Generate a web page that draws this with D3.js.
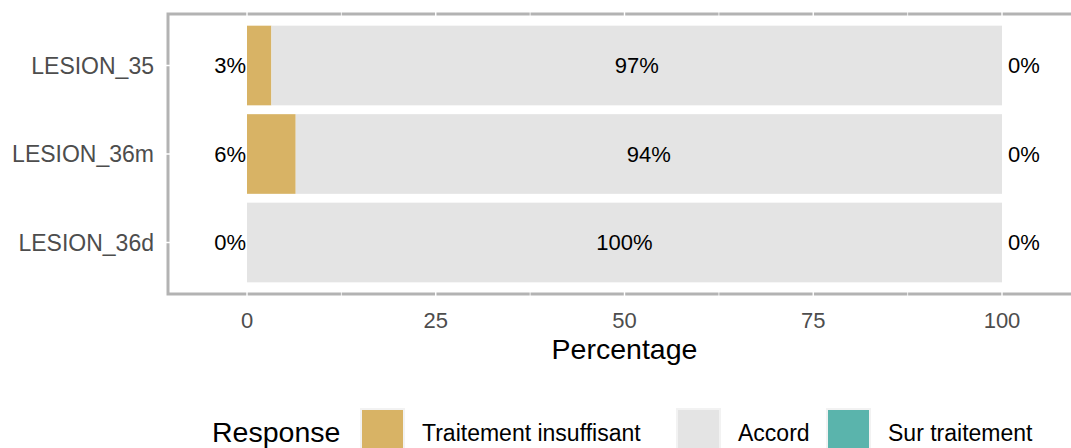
<!DOCTYPE html>
<html>
<head>
<meta charset="utf-8">
<script src="https://cdn.jsdelivr.net/npm/d3@7"></script>
<style>
  body { margin: 0; background: #fff; }
  text { font-family: "Liberation Sans", Arial, sans-serif; }
</style>
</head>
<body>
<svg id="chart" width="1071" height="448"></svg>
<script>
// data
const lesions = ['LESION_35', 'LESION_36m', 'LESION_36d'];
const responses = ['Traitement insuffisant', 'Accord', 'Sur traitement'];
const insuffisant = [3.23, 6.45, 0];
const accord = [96.77, 93.55, 100];
const surTraitement = [0, 0, 0];
const xTicks = [0, 25, 50, 75, 100];

const colors = ['#D8B365', '#E4E4E4', '#5AB4AC'];

const svg = d3.select('#chart');
const width = 1071;
const panel = { left: 168, top: 14, bottom: 294 };

const x = d3.scaleLinear().domain([0, 100]).range([247, 1002]);
const y = d3.scaleBand()
  .domain(lesions)
  .range([panel.top, panel.bottom])
  .paddingInner(0.1)
  .paddingOuter(0.132);

const color = d3.scaleOrdinal().domain(responses).range(colors);

// panel border (top, left, bottom)
const border = svg.append('g')
  .attr('stroke', '#b3b3b3')
  .attr('stroke-width', 3)
  .attr('fill', 'none');
border.append('path')
  .attr('d', `M${width},${panel.top}H${panel.left}V${panel.bottom}H${width}`);

// white grid lines that cut through the border
const grid = svg.append('g').attr('stroke', '#fff');
d3.range(-12.5, 125, 12.5).forEach(v => {
  grid.append('line')
    .attr('x1', x(v)).attr('x2', x(v))
    .attr('y1', panel.top - 2).attr('y2', panel.bottom + 2)
    .attr('stroke-width', v % 25 === 0 ? 1.4 : 0.8);
});
lesions.forEach(d => {
  grid.append('line')
    .attr('x1', panel.left - 2).attr('x2', width)
    .attr('y1', y(d) + y.bandwidth() / 2).attr('y2', y(d) + y.bandwidth() / 2)
    .attr('stroke-width', 1.4);
});

// stacked bars
const rows = lesions.map((name, i) => ({
  name,
  values: [insuffisant[i], accord[i], surTraitement[i]]
}));

rows.forEach(row => {
  let start = 0;
  row.values.forEach((v, j) => {
    svg.append('rect')
      .attr('x', x(start))
      .attr('y', y(row.name))
      .attr('width', x(start + v) - x(start))
      .attr('height', y.bandwidth())
      .attr('fill', colors[j]);
    start += v;
  });

  const cy = y(row.name) + y.bandwidth() / 2;
  // left label
  svg.append('text')
    .attr('x', x(0) - 1)
    .attr('y', cy)
    .attr('dy', '0.36em')
    .attr('text-anchor', 'end')
    .attr('font-size', 22)
    .text(`${Math.round(row.values[0])}%`);
  // centre label
  svg.append('text')
    .attr('x', x(row.values[0] + row.values[1] / 2))
    .attr('y', cy)
    .attr('dy', '0.36em')
    .attr('text-anchor', 'middle')
    .attr('font-size', 22)
    .text(`${Math.round(row.values[1])}%`);
  // right label
  svg.append('text')
    .attr('x', x(100) + 6)
    .attr('y', cy)
    .attr('dy', '0.36em')
    .attr('text-anchor', 'start')
    .attr('font-size', 22)
    .text(`${Math.round(row.values[2])}%`);
});

// y axis labels
svg.append('g')
  .selectAll('text')
  .data(lesions)
  .enter()
  .append('text')
  .attr('x', 154)
  .attr('y', d => y(d) + y.bandwidth() / 2)
  .attr('dy', '0.36em')
  .attr('text-anchor', 'end')
  .attr('font-size', 23)
  .attr('fill', '#4d4d4d')
  .text(d => d);

// x axis labels
svg.append('g')
  .selectAll('text')
  .data(xTicks)
  .enter()
  .append('text')
  .attr('x', d => x(d))
  .attr('y', 328)
  .attr('text-anchor', 'middle')
  .attr('font-size', 22)
  .attr('fill', '#4d4d4d')
  .text(d => d);

svg.append('text')
  .attr('x', x(50))
  .attr('y', 359)
  .attr('text-anchor', 'middle')
  .attr('font-size', 28.5)
  .text('Percentage');

// legend
const legend = svg.append('g');
legend.append('text')
  .attr('x', 212)
  .attr('y', 442)
  .attr('font-size', 28.5)
  .text('Response');

const keyX = [360, 676, 826];
responses.forEach((r, i) => {
  legend.append('rect')
    .attr('x', keyX[i] + 1)
    .attr('y', 409)
    .attr('width', 43)
    .attr('height', 43)
    .attr('fill', color(r))
    .attr('stroke', '#f2f2f2')
    .attr('stroke-width', 2);
  legend.append('text')
    .attr('x', keyX[i] + 62)
    .attr('y', 441)
    .attr('font-size', 23)
    .text(r);
});
</script>
</body>
</html>
